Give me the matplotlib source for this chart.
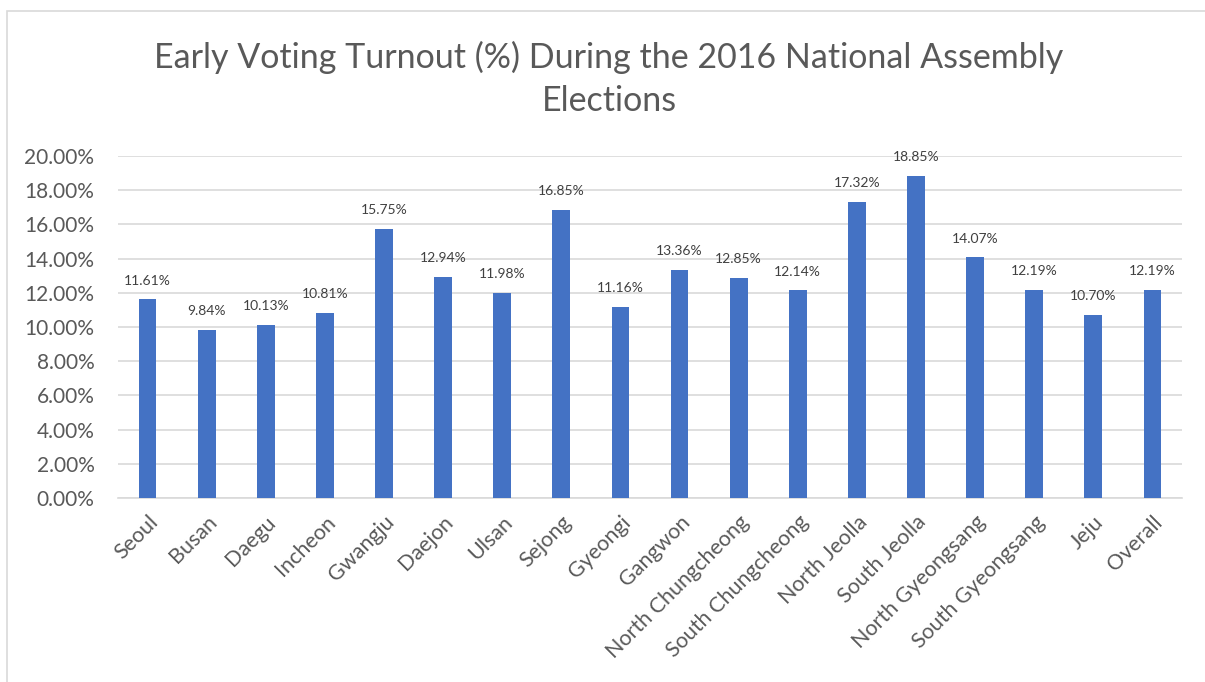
import matplotlib.pyplot as plt
import matplotlib.ticker as mticker
from matplotlib.patches import Rectangle
import numpy as np

plt.rcParams['font.family'] = ['Lato', 'DejaVu Sans']

regions = ['Seoul', 'Busan', 'Daegu', 'Incheon', 'Gwangju', 'Daejon', 'Ulsan',
           'Sejong', 'Gyeongi', 'Gangwon', 'North Chungcheong', 'South Chungcheong',
           'North Jeolla', 'South Jeolla', 'North Gyeongsang', 'South Gyeongsang',
           'Jeju', 'Overall']
turnout = [11.61, 9.84, 10.13, 10.81, 15.75, 12.94, 11.98, 16.85, 11.16, 13.36,
           12.85, 12.14, 17.32, 18.85, 14.07, 12.19, 10.70, 12.19]

bar_color = '#4472C4'
text_gray = '#595959'

fig = plt.figure(figsize=(12.05, 6.82), dpi=100)
# chart frame (left and top edges visible)
fig.add_artist(Rectangle((7 / 1205, -0.1), 1.2, (682 - 11) / 682 + 0.1,
                         transform=fig.transFigure, fill=False,
                         edgecolor='#D9D9D9', lw=1.2))

ax = fig.add_axes([118 / 1205, 1 - 498 / 682, (1182 - 118) / 1205, (498 - 156) / 682])

x = np.arange(len(regions))
ax.bar(x, turnout, width=0.3, color=bar_color, zorder=3)
for xi, v in zip(x, turnout):
    ax.text(xi, v + 0.75, f'{v:.2f}%', ha='center', va='bottom',
            fontsize=10, color='#404040')

ax.set_xlim(-0.5, len(regions) - 0.5)
ax.set_ylim(0, 20)
ax.yaxis.set_major_locator(mticker.MultipleLocator(2))
ax.yaxis.set_major_formatter(mticker.FuncFormatter(lambda v, p: f'{v:.2f}%'))
ax.grid(axis='y', color='#D9D9D9', lw=1.2, zorder=0)
for s in ['top', 'right', 'left']:
    ax.spines[s].set_visible(False)
ax.spines['bottom'].set_color('#D9D9D9')
ax.spines['bottom'].set_linewidth(1.2)
ax.tick_params(axis='both', length=0, labelsize=15, labelcolor=text_gray)
ax.tick_params(axis='y', pad=17)
ax.set_xticks(x)
ax.set_xticklabels(regions, rotation=45, ha='right', rotation_mode='anchor')
ax.tick_params(axis='x', labelsize=15.5, pad=10)

fig.text(609 / 1205, 1 - 79 / 682,
         'Early Voting Turnout (%) During the 2016 National Assembly\nElections',
         ha='center', va='center', fontsize=24.5, color=text_gray, linespacing=1.45)

fig.savefig('out.png', dpi=100)
